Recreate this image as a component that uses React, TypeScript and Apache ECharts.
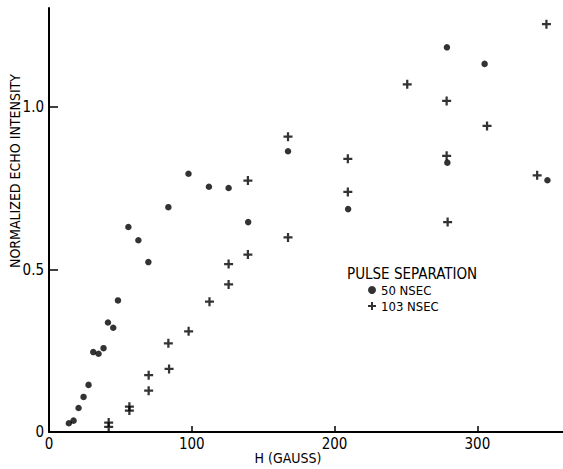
import React, { useEffect, useRef } from "react";
import * as echarts from "echarts";

const FONT = "'DejaVu Sans Condensed', 'Liberation Sans Narrow', 'Roboto Condensed', 'DejaVu Sans', sans-serif";

const xTicks = [0, 100, 200, 300];
const yTicks = [0, 0.5, 1.0];
const yTickLabels = ["0", "0.5", "1.0"];

const series50Name = "50 NSEC";
const series50X = [13.9, 17.2, 20.7, 24.2, 27.7, 31.0, 34.7, 38.2, 41.3, 45.0, 48.3, 55.6, 62.6, 69.6, 83.6, 97.7, 112.0, 125.8, 139.5, 167.4, 209.5, 278.7, 279.0, 305.1, 349.1];
const series50Y = [0.027, 0.035, 0.074, 0.108, 0.145, 0.246, 0.241, 0.258, 0.337, 0.321, 0.405, 0.631, 0.590, 0.523, 0.692, 0.795, 0.755, 0.751, 0.646, 0.864, 0.686, 1.184, 0.829, 1.133, 0.775];

const series103Name = "103 NSEC";
const series103X = [41.8, 41.8, 56.3, 56.3, 69.8, 69.8, 83.6, 84.1, 97.8, 112.4, 125.8, 125.8, 139.3, 139.3, 167.4, 167.4, 209.3, 209.3, 250.9, 278.5, 278.5, 279.2, 306.8, 341.9, 348.4];
const series103Y = [0.016, 0.029, 0.066, 0.078, 0.127, 0.175, 0.273, 0.194, 0.310, 0.401, 0.454, 0.517, 0.546, 0.774, 0.599, 0.909, 0.739, 0.841, 1.070, 1.019, 0.850, 0.646, 0.942, 0.790, 1.255];

const xTitle = "H (GAUSS)";
const yTitle = "NORMALIZED ECHO INTENSITY";
const legendTitle = "PULSE SEPARATION";

const PLUS = "path://M3,0 L5,0 L5,3 L8,3 L8,5 L5,5 L5,8 L3,8 L3,5 L0,5 L0,3 L3,3 Z";

export default function App() {
  const ref = useRef<HTMLDivElement>(null);
  useEffect(() => {
    if (!ref.current) return;
    const chart = echarts.init(ref.current, null, { renderer: "svg" });
    const ink = "#000";
    chart.setOption({
      animation: false,
      backgroundColor: "#fff",
      textStyle: { fontFamily: FONT, color: ink },
      grid: { left: 49, right: 0, top: 8, bottom: 37 },
      xAxis: {
        type: "value",
        min: 0,
        max: 360,
        interval: 100,
        axisLine: { show: true, lineStyle: { color: ink, width: 2 } },
        axisTick: { show: true, inside: true, length: 6, customValues: xTicks, lineStyle: { color: ink, width: 1.5 } },
        axisLabel: { customValues: xTicks, margin: 4, fontSize: 15, color: ink, fontFamily: FONT },
        splitLine: { show: false },
      },
      yAxis: {
        type: "value",
        min: 0,
        max: 1.305,
        interval: 0.5,
        axisLine: { show: true, lineStyle: { color: ink, width: 2 } },
        axisTick: { show: true, inside: true, length: 9, customValues: yTicks, lineStyle: { color: ink, width: 1.5 } },
        axisLabel: {
          customValues: yTicks,
          margin: 5,
          fontSize: 15,
          color: ink,
          fontFamily: FONT,
          formatter: (v: number) => {
            const i = yTicks.findIndex((t) => Math.abs(t - v) < 1e-6);
            return i >= 0 ? yTickLabels[i] : "";
          },
        },
        splitLine: { show: false },
      },
      legend: {
        orient: "vertical",
        left: 368,
        top: 283.5,
        padding: 0,
        itemGap: 3,
        itemWidth: 8,
        itemHeight: 8,
        textStyle: { fontSize: 13, color: ink, fontFamily: FONT },
        data: [
          { name: series50Name, icon: "circle" },
          { name: series103Name, icon: PLUS },
        ],
      },
      graphic: [
        {
          type: "text",
          x: 15,
          y: 171,
          rotation: Math.PI / 2,
          style: { text: yTitle, fontSize: 14, fontFamily: FONT, fill: ink, textAlign: "center", textVerticalAlign: "middle" },
        },
        {
          type: "text",
          x: 288,
          y: 458,
          style: { text: xTitle, fontSize: 14, fontFamily: FONT, fill: ink, textAlign: "center", textVerticalAlign: "middle" },
        },
        {
          type: "text",
          x: 347,
          y: 274,
          style: { text: legendTitle, fontSize: 15, fontFamily: FONT, fill: ink, textAlign: "left", textVerticalAlign: "middle" },
        },
      ],
      series: [
        {
          name: series50Name,
          type: "scatter",
          symbol: "circle",
          symbolSize: 6.5,
          itemStyle: { color: ink },
          data: series50X.map((x, i) => [x, series50Y[i]]),
        },
        {
          name: series103Name,
          type: "scatter",
          symbol: PLUS,
          symbolSize: 9,
          itemStyle: { color: ink },
          data: series103X.map((x, i) => [x, series103Y[i]]),
        },
      ],
    });
    return () => chart.dispose();
  }, []);
  return (
    <div
      ref={ref}
      style={{ position: "fixed", left: 0, top: 0, width: 563, height: 469, background: "#fff" }}
    />
  );
}
